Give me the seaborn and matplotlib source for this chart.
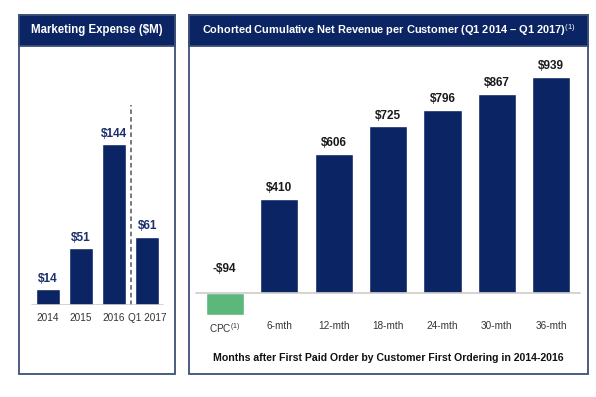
import matplotlib
matplotlib.use('Agg')
import matplotlib.pyplot as plt
import seaborn as sns
from matplotlib.patches import Rectangle

# Data
mkt_years = ['2014', '2015', '2016', 'Q1 2017']
mkt_spend = [14, 51, 144, 61]

rev_periods = ['CPC$^{(1)}$', '6-mth', '12-mth', '18-mth', '24-mth', '30-mth', '36-mth']
rev_values = [-94, 410, 606, 725, 796, 867, 939]

navy = '#0b2464'
green = '#5cb87a'

sns.set_style('white')
plt.rcParams['font.family'] = ['Liberation Sans', 'DejaVu Sans']
plt.rcParams['mathtext.fontset'] = 'custom'
plt.rcParams['mathtext.rm'] = 'Liberation Sans'
plt.rcParams['mathtext.it'] = 'Liberation Sans'

W, H = 596, 397
fig = plt.figure(figsize=(W / 100, H / 100), dpi=100)


def fx(x):
    return x / W


def fy(y):
    return 1 - y / H


def panel(x0, x1, y0, y1, head, title, size):
    # outer box and navy header band, in pixel coords
    fig.patches.append(Rectangle((fx(x0), fy(y1)), fx(x1 - x0), (y1 - y0) / H,
                                 transform=fig.transFigure, fill=False,
                                 edgecolor='#3e4f78', linewidth=1.3))
    fig.patches.append(Rectangle((fx(x0), fy(head)), fx(x1 - x0), (head - y0) / H,
                                 transform=fig.transFigure, facecolor=navy,
                                 edgecolor='#3e4f78', linewidth=1.3))
    fig.text(fx((x0 + x1) / 2), fy((y0 + head) / 2), title, color='white',
             fontsize=size, fontweight='bold', ha='center', va='center')


panel(19, 175, 15, 374, 46, 'Marketing Expense ($M)', 8.3)
panel(189, 588, 15, 374, 46,
      'Cohorted Cumulative Net Revenue per Customer (Q1 2014 \u2013 Q1 2017)$^{(1)}$', 7.9)

# Left chart: marketing expense
sc_l = 1.118
ax1 = fig.add_axes([fx(28), fy(305), fx(139), 170 * sc_l / H])
sns.barplot(x=mkt_years, y=mkt_spend, color=navy, width=0.72, saturation=1, ax=ax1)
ax1.set_xlim(-0.6, 3.6)
ax1.set_ylim(0, 170)
for i, v in enumerate(mkt_spend):
    ax1.text(i, v + 4, f'${v}', ha='center', va='bottom', fontsize=8.5,
             fontweight='bold', color='#1c2f6b', clip_on=False)
ax1.plot([2.5, 2.5], [0, 179], linestyle=(0, (3, 2)), color='#555555',
         linewidth=1.1, clip_on=False)
ax1.axhline(0, color='#cccccc', linewidth=1.2, xmin=0.03, xmax=0.97)
ax1.set_yticks([])
ax1.tick_params(axis='x', length=0, labelsize=7.2, labelcolor='#333333', pad=6)
sns.despine(ax=ax1, left=True, bottom=True)
ax1.patch.set_alpha(0)

# Right chart: cumulative net revenue per customer
sc_r = 0.23
ax2 = fig.add_axes([fx(192), fy(293 + 120 * sc_r), fx(392), 1120 * sc_r / H])
sns.barplot(x=rev_periods, y=rev_values, hue=rev_periods,
            palette=[green] + [navy] * 6, width=0.7, saturation=1,
            legend=False, ax=ax2)
ax2.set_xlim(-0.6, 6.6)
ax2.set_ylim(-120, 1000)
for i, v in enumerate(rev_values):
    lab = f'-${-v}' if v < 0 else f'${v}'
    ax2.text(i, max(v, 0) + 20 + (60 if v < 0 else 0), lab, ha='center',
             va='bottom', fontsize=8.5, fontweight='bold', color='#1a1a1a',
             clip_on=False)
ax2.axhline(0, color='#cccccc', linewidth=1.2, xmin=0.01, xmax=0.99)
ax2.set_yticks([])
ax2.tick_params(axis='x', length=0, labelsize=7.2, labelcolor='#333333', pad=0.5)
sns.despine(ax=ax2, left=True, bottom=True)
ax2.patch.set_alpha(0)
fig.text(fx(388), fy(358), 'Months after First Paid Order by Customer First Ordering in 2014-2016',
         ha='center', va='center', fontsize=7.6, fontweight='bold', color='#111111')

fig.savefig('out.png', dpi=100)
